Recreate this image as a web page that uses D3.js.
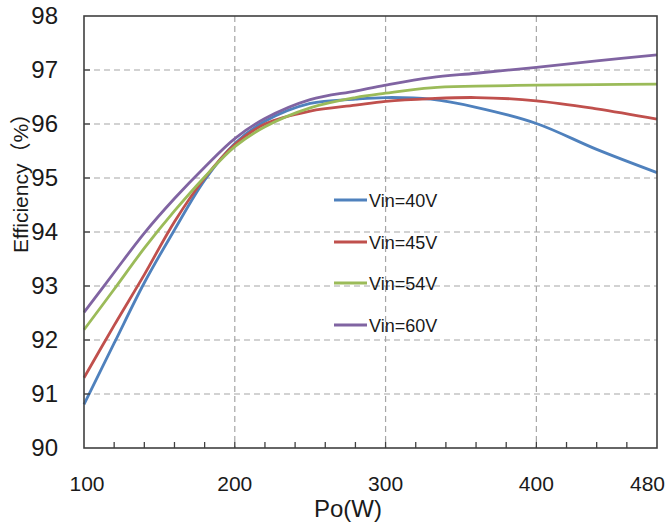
<!DOCTYPE html>
<html><head><meta charset="utf-8">
<script src="https://cdn.jsdelivr.net/npm/d3@7"></script>
<style>body{margin:0;background:#fff}svg{display:block}</style>
</head><body>
<script>
const powers = [100,120,140,160,180,200,220,250,280,300,330,360,400,440,480];
const vin40 = [90.81,91.94,93.06,94.04,94.96,95.64,96.05,96.38,96.46,96.49,96.46,96.31,96.01,95.53,95.10];
const vin45 = [91.30,92.27,93.21,94.19,95.00,95.62,96.00,96.24,96.35,96.42,96.47,96.49,96.43,96.28,96.09];
const vin54 = [92.19,92.94,93.70,94.39,95.02,95.58,95.95,96.30,96.49,96.57,96.67,96.70,96.72,96.73,96.74];
const vin60 = [92.51,93.25,93.98,94.62,95.20,95.73,96.10,96.45,96.61,96.72,96.86,96.94,97.05,97.17,97.28];
const seriesNames = ["Vin=40V","Vin=45V","Vin=54V","Vin=60V"];
const seriesColors = ["#4F81BD","#C0504D","#9BBB59","#8064A2"];
const xTickLabels = [100,200,300,400,480];
const yTickLabels = [90,91,92,93,94,95,96,97,98];

const W=668,H=525, L=84,R=657,T=16,B=448;
const svg=d3.select("body").append("svg").attr("width",W).attr("height",H);
const x=d3.scaleLinear().domain([100,480]).range([L,R]);
const y=d3.scaleLinear().domain([90,98]).range([B,T]);

// gridlines
svg.append("g").selectAll("line").data([91,92,93,94,95,96,97]).join("line")
  .attr("x1",L).attr("x2",R).attr("y1",d=>y(d)).attr("y2",d=>y(d))
  .attr("stroke","#a6a6a6").attr("stroke-width",1.2).attr("stroke-dasharray","6,4");
svg.append("g").selectAll("line").data([200,300,400]).join("line")
  .attr("y1",T).attr("y2",B).attr("x1",d=>x(d)).attr("x2",d=>x(d))
  .attr("stroke","#a6a6a6").attr("stroke-width",1.2).attr("stroke-dasharray","6,4");

// lines
const allSeries=[vin40,vin45,vin54,vin60];
const line=d3.line().x((d,i)=>x(powers[i])).y(d=>y(d)).curve(d3.curveCatmullRom.alpha(0.5));
allSeries.forEach((s,k)=>{
  svg.append("path").datum(s).attr("d",line).attr("fill","none")
    .attr("stroke",seriesColors[k]).attr("stroke-width",2.8);
});

// frame
svg.append("rect").attr("x",L).attr("y",T).attr("width",R-L).attr("height",B-T)
  .attr("fill","none").attr("stroke","#404040").attr("stroke-width",1.6);

// x minor ticks
const xt=d3.range(120,480,20);
svg.append("g").selectAll("line").data(xt).join("line")
  .attr("x1",d=>x(d)).attr("x2",d=>x(d)).attr("y1",B).attr("y2",B-6)
  .attr("stroke","#404040").attr("stroke-width",1.3);
// y ticks
svg.append("g").selectAll("line").data([91,92,93,94,95,96,97]).join("line")
  .attr("x1",L).attr("x2",L+6).attr("y1",d=>y(d)).attr("y2",d=>y(d))
  .attr("stroke","#404040").attr("stroke-width",1.3);

// tick labels
svg.append("g").selectAll("text").data(yTickLabels).join("text")
  .attr("x",58).attr("y",d=>y(d)+8).attr("text-anchor","end")
  .style("font-family","'Liberation Sans Narrow','Arial Narrow',sans-serif").style("font-size","24px").attr("fill","#1a1a1a")
  .text(d=>d);
svg.append("g").selectAll("text").data(xTickLabels).join("text")
  .attr("x",d=>x(d)).attr("y",491).attr("text-anchor",d=>d===480?"end":"middle")
  .attr("dx",d=>d===480?8:(d===100?3:0))
  .style("font-family","'Liberation Sans Narrow','Arial Narrow',sans-serif").style("font-size","21px").attr("fill","#1a1a1a")
  .text(d=>d);

// axis titles
svg.append("text").attr("x",348).attr("y",517).attr("text-anchor","middle")
  .style("font-family","'Liberation Sans',Arial,sans-serif").style("font-size","24px").attr("fill","#1a1a1a").text("Po(W)");
svg.append("text").attr("transform","translate(28,178) rotate(-90)").attr("text-anchor","middle")
  .style("font-family","'Liberation Sans','Noto Sans CJK SC',Arial,sans-serif").style("font-size","21px").attr("fill","#1a1a1a").text("Efficiency（%）");

// legend
const legY=[200,242,283,325];
seriesNames.forEach((n,k)=>{
  svg.append("line").attr("x1",334).attr("x2",367).attr("y1",legY[k]).attr("y2",legY[k])
    .attr("stroke",seriesColors[k]).attr("stroke-width",2.8);
  svg.append("text").attr("x",369).attr("y",legY[k]+6.5)
    .style("font-family","'Liberation Sans',Arial,sans-serif").style("font-size","18px").attr("fill","#1a1a1a").text(n);
});
</script>
</body></html>
